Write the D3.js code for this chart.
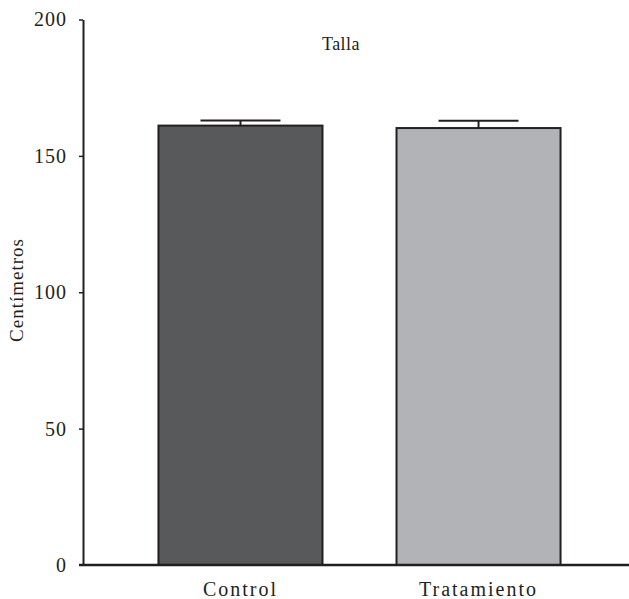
<!DOCTYPE html>
<html>
<head>
<meta charset="utf-8">
<script src="https://cdn.jsdelivr.net/npm/d3@7"></script>
<style>
  html, body { margin: 0; padding: 0; background: #fff; }
  svg { display: block; }
  text { font-family: "Liberation Serif", "Times New Roman", serif; fill: #231f20; }
</style>
</head>
<body>
<svg id="chart" width="629" height="599"></svg>
<script>
// Height by group (cm): mean and error
const categories = ["Control", "Tratamiento"];
const means = [161.1, 160.2];
const errors = [1.9, 2.7];
const barColors = ["#58595b", "#b1b3b6"];
const yTicks = [0, 50, 100, 150, 200];
const title = "Talla";
const yLabel = "Centímetros";

const svg = d3.select("#chart");
const ink = "#231f20";

const x = d3.scaleBand()
  .domain(categories)
  .range([83, 636])
  .paddingInner(0.311)
  .paddingOuter(0.317);

const y = d3.scaleLinear().domain([0, 200]).range([565, 19.5]);

// Bars
svg.selectAll("rect.bar")
  .data(categories)
  .join("rect")
  .attr("class", "bar")
  .attr("x", d => x(d))
  .attr("y", (d, i) => y(means[i]))
  .attr("width", x.bandwidth())
  .attr("height", (d, i) => y(0) - y(means[i]))
  .attr("fill", (d, i) => barColors[i])
  .attr("stroke", ink)
  .attr("stroke-width", 2);

// Error bars (upper only)
const capHalf = 40;
const eb = svg.selectAll("g.err")
  .data(categories)
  .join("g")
  .attr("class", "err");
eb.append("line")
  .attr("x1", d => x(d) + x.bandwidth() / 2)
  .attr("x2", d => x(d) + x.bandwidth() / 2)
  .attr("y1", (d, i) => y(means[i]))
  .attr("y2", (d, i) => y(means[i] + errors[i]))
  .attr("stroke", ink).attr("stroke-width", 2);
eb.append("line")
  .attr("x1", d => x(d) + x.bandwidth() / 2 - capHalf)
  .attr("x2", d => x(d) + x.bandwidth() / 2 + capHalf)
  .attr("y1", (d, i) => y(means[i] + errors[i]))
  .attr("y2", (d, i) => y(means[i] + errors[i]))
  .attr("stroke", ink).attr("stroke-width", 2);

// Y axis
const yAxis = d3.axisLeft(y).tickValues(yTicks).tickSize(4).tickPadding(12).tickSizeOuter(0);
const gy = svg.append("g").attr("transform", "translate(83,0)").call(yAxis);
gy.select(".domain").attr("stroke", ink).attr("stroke-width", 2);
gy.selectAll(".tick line").attr("stroke", ink).attr("stroke-width", 1.5);
gy.selectAll(".tick text")
  .style("font-size", "20px")
  .style("letter-spacing", "1px")
  .attr("fill", ink);
gy.selectAll(".tick").filter(d => d === 0).select("line").remove();

// X baseline
svg.append("line")
  .attr("x1", 79).attr("x2", 629)
  .attr("y1", y(0)).attr("y2", y(0))
  .attr("stroke", ink).attr("stroke-width", 2.5);

// X category labels
svg.selectAll("text.cat")
  .data(categories)
  .join("text")
  .attr("class", "cat")
  .attr("x", d => x(d) + x.bandwidth() / 2)
  .attr("y", 596)
  .attr("text-anchor", "middle")
  .style("font-size", "20px")
  .style("letter-spacing", "2px")
  .text(d => d);

// Title
svg.append("text")
  .attr("x", 341).attr("y", 50)
  .attr("text-anchor", "middle")
  .style("font-size", "18px")
  .style("letter-spacing", "0.5px")
  .text(title);

// Y axis label
svg.append("text")
  .attr("transform", "translate(23,290) rotate(-90)")
  .attr("text-anchor", "middle")
  .style("font-size", "19px")
  .style("letter-spacing", "1px")
  .text(yLabel);
</script>
</body>
</html>
